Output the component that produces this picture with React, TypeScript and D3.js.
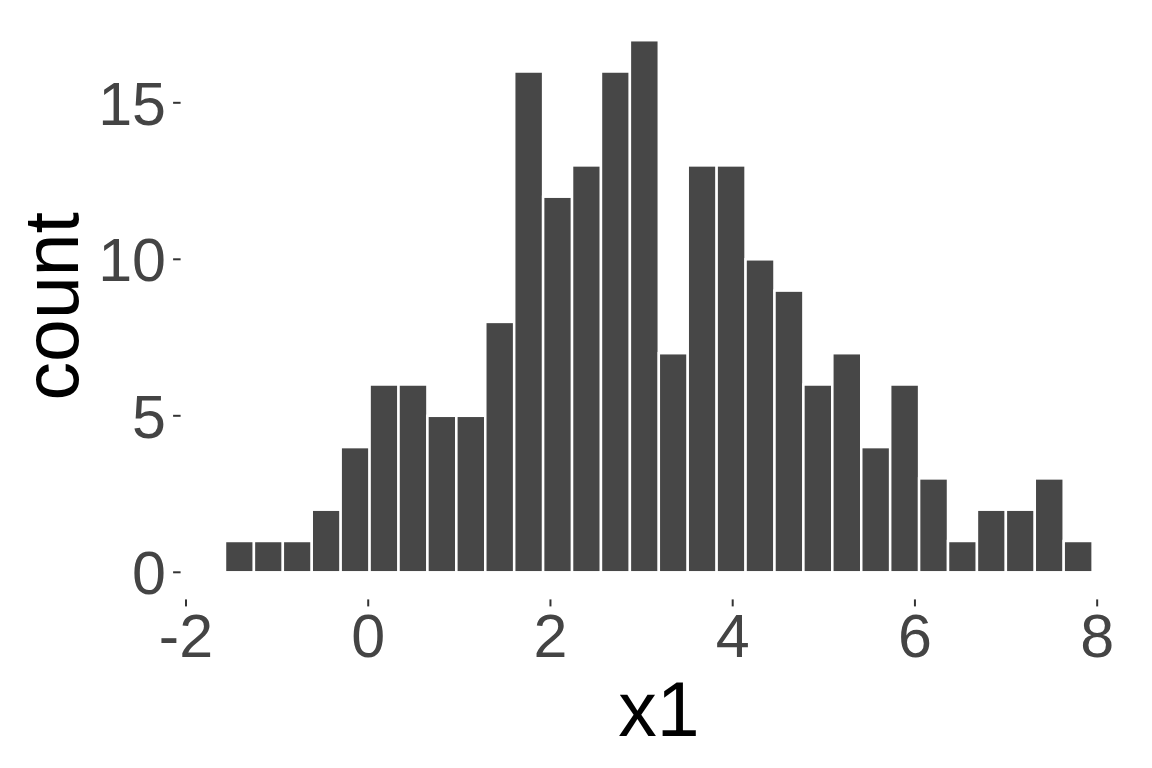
import React from "react";
import * as d3 from "d3";

const counts = [1, 1, 1, 2, 4, 6, 6, 5, 5, 8, 16, 12, 13, 16, 17, 7, 13, 13, 10, 9, 6, 7, 4, 6, 3, 1, 2, 2, 3, 1];
const binStart = -1.572;
const binWidth = 0.3174;
const xTicks = [-2, 0, 2, 4, 6, 8];
const yTicks = [0, 5, 10, 15];

const W = 1152;
const H = 768;

export default function App() {
  const bins = counts.map((c, i) => ({ x0: binStart + i * binWidth, x1: binStart + (i + 1) * binWidth, c }));
  const xmin = binStart;
  const xmax = binStart + counts.length * binWidth;
  const xr = xmax - xmin;
  const ymax = d3.max(counts) as number;
  const left = 181.6;
  const right = 1136;
  const top = 13.6;
  const bottom = 598.9;
  const x = d3.scaleLinear().domain([xmin - xr * 0.05, xmax + xr * 0.05]).range([left, right]);
  const y = d3.scaleLinear().domain([-ymax * 0.05, ymax * 1.05]).range([bottom, top]);
  const font = "'Liberation Sans', Arial, sans-serif";
  return (
    <svg width={W} height={H} style={{ position: "absolute", left: 0, top: 0, display: "block" }} fontFamily={font}>
      <rect x={0} y={0} width={W} height={H} fill="white" />
      {bins.map((b, i) => (
        <rect
          key={i}
          x={x(b.x0)}
          y={y(b.c)}
          width={x(b.x1) - x(b.x0)}
          height={y(0) - y(b.c)}
          fill="#474747"
          stroke="white"
          strokeWidth={2.5}
        />
      ))}
      {yTicks.map((t) => (
        <g key={"y" + t}>
          <line x1={left - 8.5} x2={left - 1} y1={y(t)} y2={y(t)} stroke="#333333" strokeWidth={2} />
          <text x={166} y={y(t) + 21.8} textAnchor="end" fontSize={61} fill="#444444">
            {t}
          </text>
        </g>
      ))}
      {xTicks.map((t) => (
        <g key={"x" + t}>
          <line x1={x(t)} x2={x(t)} y1={bottom + 0.5} y2={bottom + 7.5} stroke="#333333" strokeWidth={2} />
          <text x={x(t)} y={657} textAnchor="middle" fontSize={61} fill="#444444">
            {t}
          </text>
        </g>
      ))}
      <text x={(left + right) / 2} y={736} textAnchor="middle" fontSize={77} fill="black">
        x1
      </text>
      <text
        transform={`translate(78, ${(top + bottom) / 2}) rotate(-90)`}
        textAnchor="middle"
        fontSize={77}
        fill="black"
      >
        count
      </text>
    </svg>
  );
}
